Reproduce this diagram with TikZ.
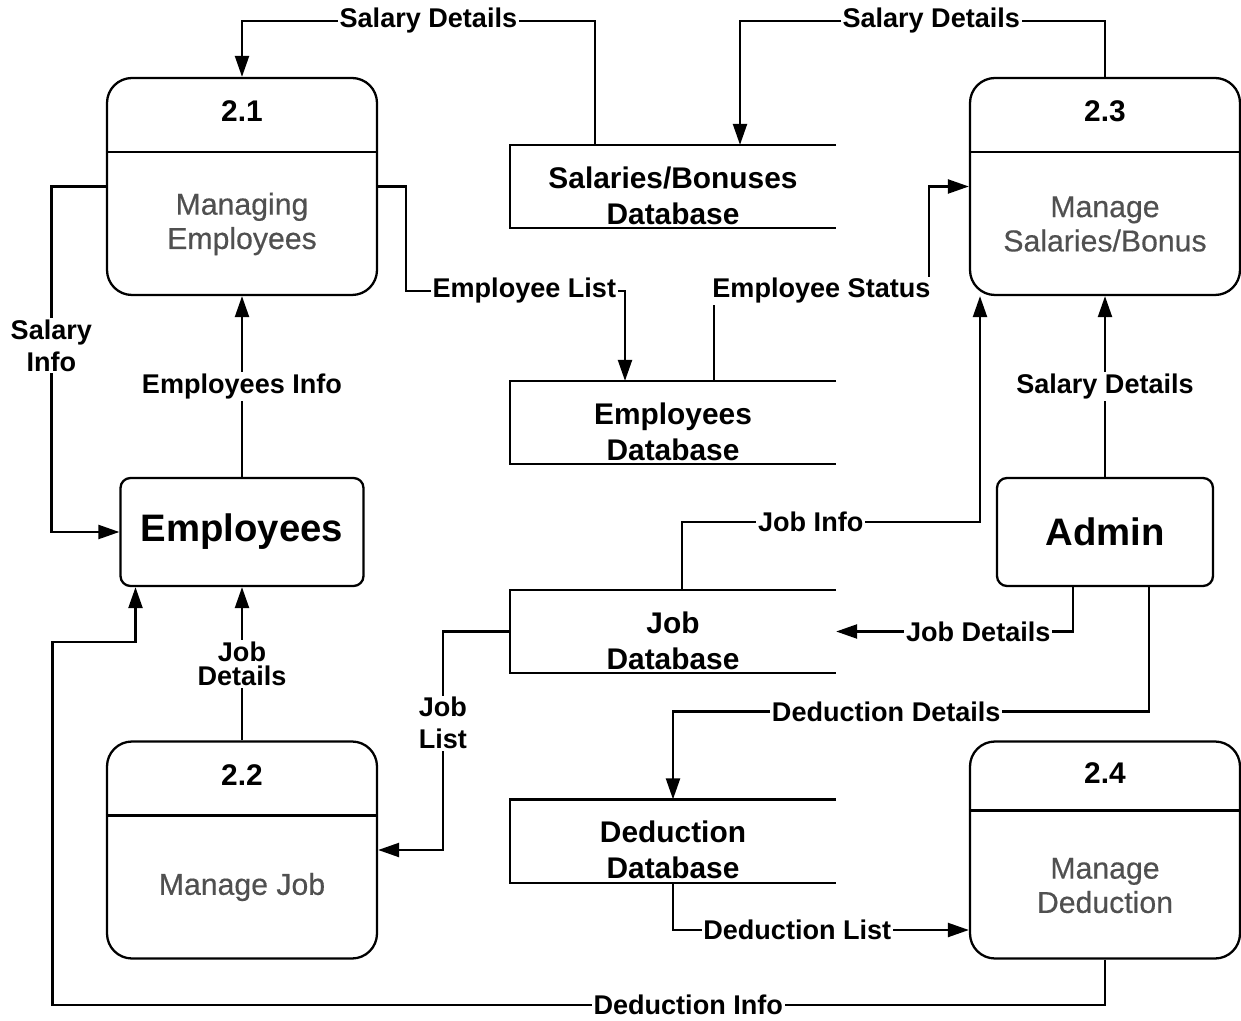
\documentclass[tikz,border=0pt]{standalone}
\usepackage{fontspec}
\setmainfont{Liberation Sans}
\newfontfamily\procfont[FakeBold=0.4]{Liberation Sans}
\usepackage{tikz}
\usetikzlibrary{arrows.meta, positioning}
\definecolor{procgray}{HTML}{505050}

\begin{document}
\begin{tikzpicture}[
    line width=1.3pt,
    proc/.style={rectangle, draw, rounded corners=0.5cm, minimum width=5.4cm, minimum height=4.34cm},
    procid/.style={font=\fontsize{17}{20}\selectfont\bfseries},
    procname/.style={align=center, text=procgray, font=\procfont\fontsize{17.2}{19.5}\selectfont},
    ent/.style={rectangle, draw, rounded corners=0.2cm, minimum height=2.16cm,
                font=\fontsize{21.8}{26}\selectfont\bfseries},
    db/.style={rectangle, minimum width=6.48cm, minimum height=1.62cm},
    dbtext/.style={align=center, font=\fontsize{17}{20.5}\selectfont\bfseries},
    lbl/.style={fill=white, inner sep=1pt, align=center, font=\fontsize{15.4}{18.2}\selectfont\bfseries},
    arrow/.style={-{Triangle[length=0.42cm, width=0.28cm]}}
]
\useasboundingbox (0,0) rectangle (24.82,-20.42);

% ===== PROCESSES =====
\node[proc] (p21) at (4.84,-3.73) {};
\node[procid] (p21id) at (4.84,-2.22) {2.1};
\node[procname] (p21name) at (4.84,-4.48) {Managing\\Employees};

\node[proc] (p23) at (22.1,-3.73) {};
\node[procid] (p23id) at (22.1,-2.22) {2.3};
\node[procname] (p23name) at (22.1,-4.48) {Manage\\Salaries/Bonus};

\node[proc] (p22) at (4.84,-17.0) {};
\node[procid] (p22id) at (4.84,-15.5) {2.2};
\node[procname] (p22name) at (4.84,-17.74) {Manage Job};

\node[proc] (p24) at (22.1,-17.0) {};
\node[procid] (p24id) at (22.1,-15.46) {2.4};
\node[procname] (p24name) at (22.1,-17.71) {Manage\\Deduction};

% dividers under the process numbers
\foreach \p/\h in {p21/1.5, p22/1.5, p23/1.5, p24/1.4}
    \draw (\p.north west) ++(0,-\h) -- ++(5.4,0);

% ===== EXTERNAL ENTITIES =====
\node[ent, minimum width=4.86cm] (emp) at (4.84,-10.64) {Employees};
\node[ent, minimum width=4.32cm] (adm) at (22.1,-10.64) {Admin};

% ===== DATA STORES =====
\node[db] (sdb) at (13.46,-3.73) {};
\node[dbtext] (sdbt) at ([yshift=-0.18cm]sdb.center) {Salaries/Bonuses\\Database};
\node[db] (edb) at (13.46,-8.45) {};
\node[dbtext] (edbt) at ([yshift=-0.18cm]edb.center) {Employees\\Database};
\node[db] (jdb) at (13.46,-12.63) {};
\node[dbtext] (jdbt) at ([yshift=-0.18cm]jdb.center) {Job\\Database};
\node[db] (ddb) at (13.46,-16.82) {};
\node[dbtext] (ddbt) at ([yshift=-0.18cm]ddb.center) {Deduction\\Database};

\foreach \d in {sdb, edb, jdb, ddb}
    \draw (\d.north east) -- (\d.north west) -- (\d.south west) -- (\d.south east);

% ===== FLOWS =====
% salaries store <-> processes
\draw[arrow] ([xshift=-1.56cm]sdb.north) |- ([yshift=1.12cm]p21.north)
    node[lbl, pos=0.736] {Salary Details} -- (p21.north);
\draw[arrow] (p23.north) |- ([xshift=1.34cm, yshift=2.48cm]sdb.north)
    node[lbl, pos=0.738] {Salary Details} -- ([xshift=1.34cm]sdb.north);

% 2.1 and Employees
\draw[arrow] (p21.west) -| ([xshift=-1.36cm]emp.west) node[lbl, pos=0.73] {Salary\\Info} -- (emp.west);
\draw[arrow] (emp) -- (p21) node[lbl, midway] {Employees Info};
\draw[arrow] (p21.east) -- ++(0.56,0) |- ([xshift=-0.96cm, yshift=1.8cm]edb.north)
    node[lbl, pos=0.77] {Employee List} -- ([xshift=-0.96cm]edb.north);

% employees store -> 2.3
\coordinate (esbend) at ([xshift=-0.8cm, yshift=-2.09cm]p23.west);
\draw[arrow] ([xshift=0.82cm]edb.north) |- (esbend) node[lbl, pos=0.75] {Employee Status} |- (p23.west);

% job store -> 2.3
\coordinate (jibend) at ([xshift=-2.5cm, yshift=-4.52cm]p23.south);
\draw[arrow] ([xshift=0.18cm]jdb.north) |- (jibend) node[lbl, pos=0.716] {Job Info}
    -- ([xshift=-2.5cm]p23.south);

% Admin
\draw[arrow] (adm) -- (p23) node[lbl, midway] {Salary Details};
\draw[arrow] ([xshift=-0.64cm]adm.south) |- (jdb.east) node[lbl, pos=0.70] {Job Details};
\draw[arrow] ([xshift=0.88cm]adm.south) |- ([yshift=1.76cm]ddb.north)
    node[lbl, pos=0.776] {Deduction Details} -- (ddb.north);

% job store -> 2.2 -> Employees
\draw[arrow] (jdb.west) -- ++(-1.34,0) |- node[lbl, pos=0.21] {Job\\List} (p22.east);
\draw[arrow] (p22) -- (emp) node[lbl, midway, font=\fontsize{15.4}{14}\selectfont\bfseries] {Job\\Details};

% deductions
\draw[arrow] (ddb.south) |- ([yshift=-1.6cm]p24.west) node[lbl, pos=0.71] {Deduction List};
\draw[arrow] (p24.south) -- ([yshift=-0.9cm]p24.south)
    -| node[lbl, inner ysep=0pt, pos=0.198] {Deduction Info} ([xshift=-3.79cm, yshift=-1.1cm]emp.south)
    -- ([xshift=-2.13cm, yshift=-1.1cm]emp.south) -- ([xshift=-2.13cm]emp.south);

\end{tikzpicture}
\end{document}
